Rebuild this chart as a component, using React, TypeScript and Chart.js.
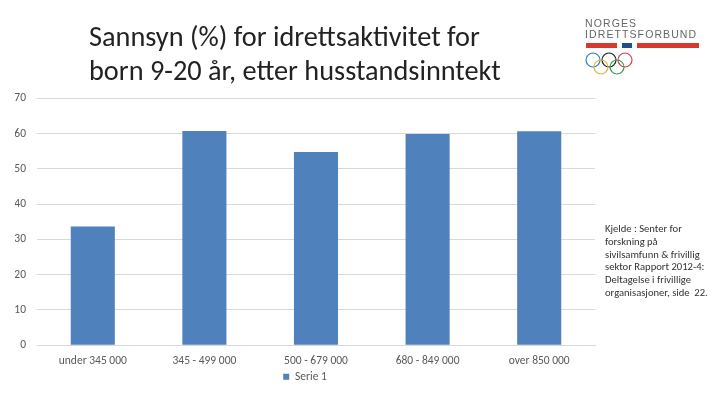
import React, { useEffect, useRef } from "react";
import Chart from "chart.js/auto";

const categories = ["under 345 000", "345 - 499 000", "500 - 679 000", "680 - 849 000", "over 850 000"];
const serie1 = [33.7, 60.8, 54.8, 59.9, 60.7];
const titleLines = ["Sannsyn (%) for idrettsaktivitet for", "born 9-20 år, etter husstandsinntekt"];
const sourceLines = [
  "Kjelde : Senter for",
  "forskning på",
  "sivilsamfunn & frivillig",
  "sektor Rapport 2012-4:",
  "Deltagelse i frivillige",
  "organisasjoner, side  22.",
];
const rings = [
  { cx: 19, cy: 17, color: "#2f7fc0" },
  { cx: 35, cy: 17, color: "#222222" },
  { cx: 51, cy: 17, color: "#d6404a" },
  { cx: 27, cy: 24, color: "#e3b23c" },
  { cx: 43, cy: 24, color: "#3a9a5a" },
];

const font = "Carlito, 'Open Sans', 'Noto Sans', sans-serif";

const App: React.FC = () => {
  const chartRef = useRef<HTMLCanvasElement>(null);

  useEffect(() => {
    if (!chartRef.current) return;
    const chart = new Chart(chartRef.current, {
      type: "bar",
      data: {
        labels: categories,
        datasets: [
          {
            label: "Serie 1",
            data: serie1,
            backgroundColor: "#4f81bd",
            barPercentage: 0.395,
            categoryPercentage: 1,
          },
        ],
      },
      options: {
        animation: false,
        responsive: false,
        layout: { padding: { top: 98.5, left: 15, right: 125, bottom: 12.5 } },
        scales: {
          x: {
            grid: { display: false },
            border: { color: "#d9d9d9" },
            ticks: { color: "#595959", font: { size: 11.5, family: font }, padding: 1, maxRotation: 0 },
          },
          y: {
            min: 0,
            max: 70,
            afterFit: (axis) => {
              axis.width = 22;
            },
            grid: { color: "#d9d9d9", drawTicks: false },
            border: { display: false },
            ticks: { stepSize: 10, color: "#595959", font: { size: 11.5, family: font }, padding: 11 },
          },
        },
        plugins: {
          tooltip: { enabled: false },
          legend: {
            position: "bottom",
            labels: {
              boxWidth: 6,
              boxHeight: 6,
              padding: 2,
              color: "#595959",
              font: { size: 11.5, family: font },
            },
          },
        },
      },
    });
    return () => chart.destroy();
  }, []);

  return (
    <div style={{ position: "absolute", left: 0, top: 0, width: 720, height: 405, background: "#fff", overflow: "hidden", fontFamily: font }}>
      <canvas ref={chartRef} width={720} height={405} style={{ position: "absolute", left: 0, top: 0 }} />
      <div style={{ position: "absolute", left: 89, top: 20, fontSize: 28.3, lineHeight: "34px", color: "#222", whiteSpace: "nowrap" }}>
        {titleLines.map((t) => (
          <div key={t}>{t}</div>
        ))}
      </div>
      <div style={{ position: "absolute", left: 605, top: 223, fontSize: 10.6, lineHeight: "12.8px", color: "#333", whiteSpace: "pre" }}>
        {sourceLines.map((t) => (
          <div key={t}>{t}</div>
        ))}
      </div>
      {/* logo */}
      <div style={{ position: "absolute", left: 585, top: 18, fontFamily: "'Liberation Sans', sans-serif", fontSize: 10.5, lineHeight: "10.5px", color: "#666", whiteSpace: "nowrap", letterSpacing: 1.1 }}>
        <div>NORGES</div>
        <div>IDRETTSFORBUND</div>
      </div>
      <div style={{ position: "absolute", left: 586, top: 43, width: 31, height: 5, background: "#d8392f" }} />
      <div style={{ position: "absolute", left: 622, top: 43, width: 10, height: 5, background: "#1f4e8c" }} />
      <div style={{ position: "absolute", left: 637, top: 43, width: 62, height: 5, background: "#d8392f" }} />
      <svg style={{ position: "absolute", left: 574, top: 40 }} width={80} height={40}>
        {rings.map((r) => (
          <circle key={r.color} cx={r.cx} cy={r.cy + 3} r={7} fill="none" stroke={r.color} strokeWidth={1.2} />
        ))}
      </svg>
    </div>
  );
};

export default App;
